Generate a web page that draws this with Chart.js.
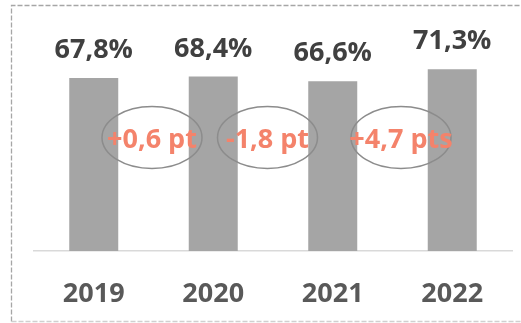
<!DOCTYPE html>
<html>
<head>
<meta charset="utf-8">
<script src="https://cdn.jsdelivr.net/npm/chart.js@4"></script>
<style>
  html, body { margin: 0; padding: 0; background: #fff; }
  #wrap { width: 521px; height: 323px; }
</style>
</head>
<body>
<div id="wrap"><canvas id="graph"></canvas></div>
<script>
const years = ['2019', '2020', '2021', '2022']
const rates = [67.8, 68.4, 66.6, 71.3]

const FONT = '"Open Sans", Lato, sans-serif'
// nudges for the change bubbles, left from the gap between two bars
const bubbleShift = [-1.5, -5.5, 8.5]

// frame, value labels and the year-on-year change bubbles
const decorations = {
  id: 'decorations',
  beforeDraw(chart) {
    const ctx = chart.ctx
    ctx.save()
    ctx.lineWidth = 1.3
    ctx.setLineDash([5, 2])
    ctx.strokeStyle = '#a6a6a6'
    ctx.beginPath()
    ctx.moveTo(11.5, 321.5)
    ctx.lineTo(11.5, 5.5)
    ctx.lineTo(521, 5.5)
    ctx.stroke()
    ctx.strokeStyle = '#d0d0d0'
    ctx.beginPath()
    ctx.moveTo(11.5, 321.5)
    ctx.lineTo(521, 321.5)
    ctx.stroke()
    ctx.restore()
  },
  afterDatasetsDraw(chart) {
    const ctx = chart.ctx
    const bars = chart.getDatasetMeta(0).data
    const y = chart.scales.y
    ctx.save()
    ctx.font = 'bold 27px ' + FONT
    ctx.textAlign = 'center'
    ctx.textBaseline = 'alphabetic'
    ctx.fillStyle = '#404040'
    bars.forEach((bar, i) => {
      ctx.fillText(rates[i].toFixed(1).replace('.', ',') + '%', bar.x, bar.y - 20)
    })

    const cy = y.getPixelForValue(44.5)
    for (let i = 1; i < bars.length; i++) {
      const cx = (bars[i - 1].x + bars[i].x) / 2 + bubbleShift[i - 1]
      ctx.beginPath()
      ctx.ellipse(cx, cy, 50, 31, 0, 0, Math.PI * 2)
      ctx.lineWidth = 1.5
      ctx.strokeStyle = '#8c8c8c'
      ctx.stroke()

      const diff = Math.round((rates[i] - rates[i - 1]) * 10) / 10
      const txt = (diff > 0 ? '+' : '') + diff.toFixed(1).replace('.', ',') +
        (Math.abs(diff) >= 2 ? ' pts' : ' pt')
      ctx.fillStyle = '#f4836b'
      ctx.fillText(txt, cx, cy + 10)
    }
    ctx.restore()
  }
}

new Chart(document.getElementById('graph'), {
  type: 'bar',
  data: {
    labels: years,
    datasets: [{
      data: rates,
      backgroundColor: '#a5a5a5',
      categoryPercentage: 1,
      barPercentage: 0.41
    }]
  },
  options: {
    responsive: true,
    maintainAspectRatio: false,
    animation: false,
    events: [],
    layout: { padding: { left: 34, right: 9, top: 47, bottom: 0 } },
    plugins: { legend: { display: false }, tooltip: { enabled: false } },
    scales: {
      x: {
        grid: { display: false, drawTicks: false },
        border: { display: true, color: '#d9d9d9', width: 1.5 },
        ticks: { color: '#595959', font: { family: FONT, size: 27, weight: 'bold' }, padding: 27 },
        afterFit(scale) { scale.height = 72 }
      },
      y: { display: false, min: 0, max: 80 }
    }
  },
  plugins: [decorations]
})
</script>
</body>
</html>
